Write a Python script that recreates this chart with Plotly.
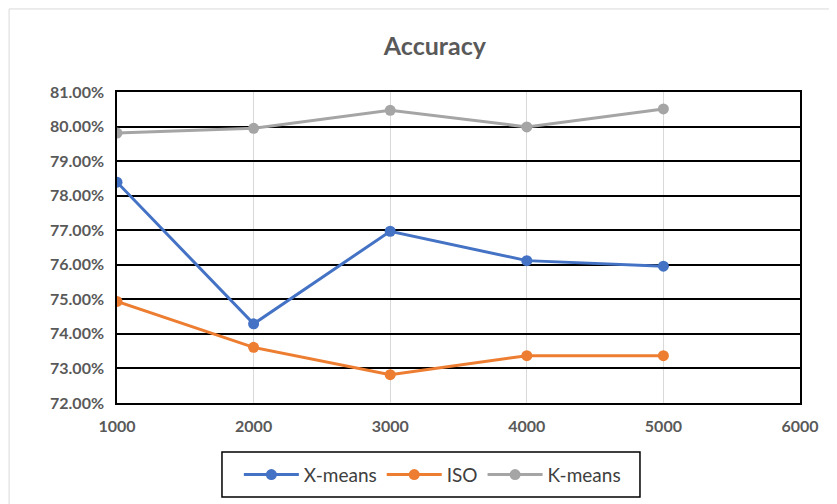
import plotly.graph_objects as go

x_vals = [1000, 2000, 3000, 4000, 5000]
xmeans = [0.7839, 0.7429, 0.7697, 0.7612, 0.7596]
iso = [0.7494, 0.7361, 0.7282, 0.7337, 0.7337]
kmeans = [0.7981, 0.7995, 0.8047, 0.7999, 0.8051]

series = [("X-means", xmeans, "#4472C4"), ("ISO", iso, "#ED7D31"), ("K-means", kmeans, "#A5A5A5")]

fig = go.Figure()
for name, vals, col in series:
    fig.add_trace(go.Scatter(x=x_vals, y=vals, name=name, mode="lines+markers",
                             line=dict(color=col, width=3), marker=dict(color=col, size=11)))

fig.update_layout(
    width=837, height=504,
    margin=dict(l=109, r=45, t=84, b=109),
    paper_bgcolor="white", plot_bgcolor="white",
    font=dict(family="Lato, Open Sans, sans-serif", color="#595959"),
    title=dict(text="<b>Accuracy</b>", x=0.51, xanchor="center", y=0.925, yanchor="middle",
               font=dict(size=25, color="#595959")),
    showlegend=True,
    legend=dict(orientation="h", xref="container", yref="container", x=0.507, xanchor="center",
                y=0.074, yanchor="middle", borderwidth=0, bgcolor="rgba(0,0,0,0)",
                font=dict(size=19, color="#404040"), tracegroupgap=0,
                itemwidth=55),
)
fig.update_xaxes(range=[1000, 6000], dtick=1000, tick0=1000, showgrid=True, gridcolor="#D9D9D9",
                 gridwidth=1, showline=True, linecolor="#000000", linewidth=1.5, mirror=True,
                 zeroline=False, tickfont=dict(size=16, color="#595959", family="Lato"),
                 ticklabelstandoff=8, tickprefix="<b>", ticksuffix="</b>")
fig.update_yaxes(range=[0.72, 0.81], dtick=0.01, tick0=0.72, tickformat=".2%", showgrid=True,
                 gridcolor="#000000", gridwidth=1.5, showline=True, linecolor="#000000",
                 linewidth=1.5, mirror=True, zeroline=False,
                 tickfont=dict(size=16, color="#595959", family="Lato"), ticklabelstandoff=8)
fig.update_yaxes(tickprefix="<b>", ticksuffix="</b>")
fig.add_shape(type="rect", xref="paper", yref="paper", x0=-0.158, x1=1.07, y0=-0.36, y1=1.267,
              line=dict(color="#D9D9D9", width=1))
fig.add_shape(type="rect", xref="paper", yref="paper", x0=0.1537, x1=0.7657, y0=-0.302, y1=-0.1576,
              line=dict(color="#000000", width=1.5))
fig.write_html("out.html")
